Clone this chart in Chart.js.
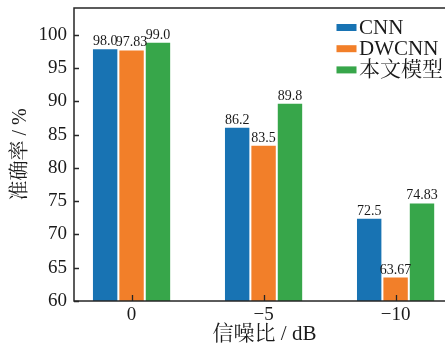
<!DOCTYPE html>
<html>
<head>
<meta charset="utf-8">
<script src="https://cdn.jsdelivr.net/npm/chart.js@4.4.1/dist/chart.umd.min.js"></script>
<style>
  html, body { margin: 0; padding: 0; background: #fff; overflow: hidden; }
  #wrap { width: 455px; height: 347px; }
</style>
</head>
<body>
<div id="wrap"><canvas id="acc_chart" width="455" height="347"></canvas></div>
<script>
// SNR groups on the x axis
const snr_labels = ['0', '\u22125', '\u221210'];
// accuracy (%) per model
const cnn = [98.0, 86.2, 72.5];
const dwcnn = [97.83, 83.5, 63.67];
const ours = [99.0, 89.8, 74.83];
const series_names = ['CNN', 'DWCNN', '本文模型'];
const y_ticks = [60, 65, 70, 75, 80, 85, 90, 95, 100];

const colors = ['#1873b3', '#f27f29', '#37a64a'];
const serif = '"Liberation Serif", "Noto Serif CJK SC", "Noto Sans CJK SC", serif';
const ink = '#1a1a1a';

// 98 -> "98.0", 97.83 -> "97.83"
const fmt = v => (v % 1 === 0 ? v.toFixed(1) : String(v));

// frame, inward ticks, value labels and legend
const extras = {
  id: 'extras',
  afterDatasetsDraw(chart) {
    const { ctx, chartArea: a, scales } = chart;
    ctx.save();
    ctx.font = '14px ' + serif;
    ctx.fillStyle = ink;
    ctx.textAlign = 'center';
    ctx.textBaseline = 'alphabetic';
    chart.data.datasets.forEach((ds, di) => {
      chart.getDatasetMeta(di).data.forEach((bar, i) => {
        ctx.fillText(fmt(ds.data[i]), bar.x, bar.y - 3);
      });
    });

    ctx.strokeStyle = '#262626';
    ctx.lineWidth = 1.5;
    ctx.strokeRect(a.left, a.top, a.right - a.left, a.bottom - a.top);

    ctx.lineWidth = 1.3;
    ctx.beginPath();
    y_ticks.forEach(v => {
      const y = Math.round(scales.y.getPixelForValue(v)) + 0.5;
      ctx.moveTo(a.left, y);
      ctx.lineTo(a.left + 5, y);
    });
    snr_labels.forEach((_, i) => {
      const x = Math.round(scales.x.getPixelForValue(i)) + 0.5;
      ctx.moveTo(x, a.bottom);
      ctx.lineTo(x, a.bottom - 6);
    });
    ctx.stroke();
    ctx.restore();
  },
  afterDraw(chart) {
    const { ctx, chartArea: a } = chart;
    ctx.save();
    ctx.font = '21px ' + serif;
    ctx.fillStyle = ink;
    ctx.textAlign = 'left';
    ctx.textBaseline = 'middle';
    chart.data.datasets.forEach((ds, i) => {
      const cy = a.top + 19.5 + i * 21.2;
      ctx.fillStyle = ds.backgroundColor;
      ctx.fillRect(336.5, cy - 3.5, 20, 7);
      ctx.fillStyle = ink;
      ctx.fillText(ds.label, 359, cy + 1);
    });
    ctx.restore();
  }
};

const bar_style = {
  borderColor: 'rgba(255,255,255,0.85)',
  borderWidth: 1,
  categoryPercentage: 0.6,
  barPercentage: 1
};

new Chart(document.getElementById('acc_chart'), {
  type: 'bar',
  data: {
    labels: snr_labels.map((_, i) => i),
    datasets: [cnn, dwcnn, ours].map((d, i) => ({
      label: series_names[i],
      data: d,
      backgroundColor: colors[i],
      ...bar_style
    }))
  },
  options: {
    responsive: false,
    animation: false,
    layout: { padding: { top: 8, left: 0, right: 0, bottom: 0 } },
    plugins: { legend: { display: false }, tooltip: { enabled: false } },
    scales: {
      x: {
        type: 'linear',
        min: -0.436,
        max: 2.45,
        offset: false,
        grid: { display: false, drawTicks: false },
        border: { display: false },
        afterBuildTicks: s => { s.ticks = snr_labels.map((_, i) => ({ value: i })); },
        afterFit: s => { s.height = 46; s.paddingLeft = 0; s.paddingRight = 0; },
        ticks: {
          callback: v => snr_labels[v],
          font: { family: serif, size: 19 },
          color: ink,
          padding: 3,
          maxRotation: 0,
          autoSkip: false
        },
        title: {
          display: true,
          text: '信噪比 / dB',
          font: { family: serif, size: 21 },
          color: ink,
          padding: { top: 0, bottom: 0 }
        }
      },
      y: {
        min: 60,
        max: 104.06,
        grid: { display: false, drawTicks: false },
        border: { display: false },
        afterBuildTicks: s => { s.ticks = y_ticks.map(v => ({ value: v })); },
        afterFit: s => { s.width = 74; s.paddingTop = 0; s.paddingBottom = 0; },
        ticks: {
          font: { family: serif, size: 19 },
          color: ink,
          padding: 7
        },
        title: {
          display: true,
          text: '准确率 / %',
          font: { family: serif, size: 20 },
          color: ink,
          padding: { top: 9, bottom: 0 }
        }
      }
    }
  },
  plugins: [extras]
});
</script>
</body>
</html>
